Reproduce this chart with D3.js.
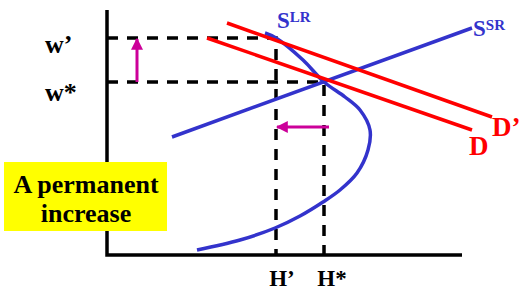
<!DOCTYPE html>
<html>
<head>
<meta charset="utf-8">
<script src="https://cdn.jsdelivr.net/npm/d3@7"></script>
<style>
  body { margin: 0; background: #fff; }
  svg { display: block; }
</style>
</head>
<body>
<svg width="520" height="291"></svg>
<script>
// chart units: hours H on x, wage w on y
const equilibrium = {hStar: 217, hPrime: 169, wStar: 173, wPrime: 217};
const shortRunSupply = [[65, 118], [365, 227]];
const demand = [[100, 217], [365, 125]];
const demandShifted = [[120, 232], [385, 138]];
const longRunSupply = [
  [158, 222], [169, 217], [196, 195], [217, 173], [238, 158], [253, 145],
  [263, 125], [261, 105], [250, 82], [233, 65], [216, 53], [193, 39],
  [168, 27], [133, 15], [90, 5]
];
const yLabels = ["w’", "w*"];
const xLabels = ["H’", "H*"];
const boxLines = ["A permanent", "increase"];

const blue = "#3333cc", red = "#ff0000", magenta = "#cc0099";
const serif = "'Liberation Serif', 'Times New Roman', Times, 'DejaVu Serif', serif";

const svg = d3.select("svg")
  .attr("font-family", serif)
  .attr("font-weight", "bold");

const x = d3.scaleLinear().domain([0, 355]).range([107, 462]);
const y = d3.scaleLinear().domain([0, 245]).range([255, 10]);

const line = d3.line().x(d => x(d[0])).y(d => y(d[1]));

// magenta arrow head
svg.append("defs").append("marker")
  .attr("id", "head")
  .attr("viewBox", "0 0 10 10")
  .attr("refX", 9).attr("refY", 5)
  .attr("markerWidth", 4).attr("markerHeight", 4)
  .attr("markerUnits", "strokeWidth")
  .attr("orient", "auto")
  .append("path")
  .attr("d", "M0,0 L10,5 L0,10 Z")
  .attr("fill", magenta);

// axes
svg.append("path")
  .attr("d", `M${x(0)},${y(245)} L${x(0)},${y(0)} L${x(355)},${y(0)}`)
  .attr("fill", "none")
  .attr("stroke", "#000")
  .attr("stroke-width", 3.5);

// dashed guides
const dash = "11,9";
svg.append("path")
  .attr("d", line([[0, equilibrium.wPrime], [equilibrium.hPrime, equilibrium.wPrime], [equilibrium.hPrime, 0]]))
  .attr("fill", "none").attr("stroke", "#000").attr("stroke-width", 3.5)
  .attr("stroke-dasharray", dash);
svg.append("path")
  .attr("d", line([[0, equilibrium.wStar], [equilibrium.hStar, equilibrium.wStar], [equilibrium.hStar, 0]]))
  .attr("fill", "none").attr("stroke", "#000").attr("stroke-width", 3.5)
  .attr("stroke-dasharray", dash);

// curves
svg.append("path")
  .attr("d", line(shortRunSupply))
  .attr("fill", "none").attr("stroke", blue).attr("stroke-width", 3.5);

svg.append("path")
  .attr("d", d3.line().x(d => x(d[0])).y(d => y(d[1])).curve(d3.curveCatmullRom)(longRunSupply))
  .attr("fill", "none").attr("stroke", blue).attr("stroke-width", 3.5);

svg.append("path")
  .attr("d", line(demand))
  .attr("fill", "none").attr("stroke", red).attr("stroke-width", 3.5);

svg.append("path")
  .attr("d", line(demandShifted))
  .attr("fill", "none").attr("stroke", red).attr("stroke-width", 3.5);

// arrows
svg.append("path")
  .attr("d", line([[30, equilibrium.wStar], [30, equilibrium.wPrime - 1]]))
  .attr("stroke", magenta).attr("stroke-width", 3)
  .attr("marker-end", "url(#head)");
svg.append("path")
  .attr("d", line([[222, 128], [equilibrium.hPrime + 1, 128]]))
  .attr("stroke", magenta).attr("stroke-width", 3)
  .attr("marker-end", "url(#head)");

// axis labels
svg.selectAll(".ylab")
  .data(yLabels)
  .enter().append("text")
  .attr("x", 45)
  .attr("y", (d, i) => i === 0 ? 53 : 101)
  .attr("font-size", "26px")
  .text(d => d);

svg.selectAll(".xlab")
  .data(xLabels)
  .enter().append("text")
  .attr("x", (d, i) => i === 0 ? 282 : 332)
  .attr("y", 286)
  .attr("text-anchor", "middle")
  .attr("font-size", "23px")
  .text(d => d);

// curve labels
function supLabel(px, py, main, sup, color) {
  const t = svg.append("text").attr("x", px).attr("y", py).attr("fill", color);
  t.append("tspan").attr("font-size", "23px").text(main);
  t.append("tspan").attr("font-size", "15px").attr("dy", -6).text(sup);
}
supLabel(277, 28, "S", "LR", blue);
supLabel(473, 36, "S", "SR", blue);

svg.append("text").attr("x", 492).attr("y", 136)
  .attr("fill", red).attr("font-size", "27px").text("D’");
svg.append("text").attr("x", 469).attr("y", 155)
  .attr("fill", red).attr("font-size", "27px").text("D");

// yellow note
svg.append("rect")
  .attr("x", 4).attr("y", 162)
  .attr("width", 163).attr("height", 69)
  .attr("fill", "#ffff00");

svg.selectAll(".box")
  .data(boxLines)
  .enter().append("text")
  .attr("x", 86)
  .attr("y", (d, i) => 193 + i * 29)
  .attr("text-anchor", "middle")
  .attr("font-size", "26px")
  .text(d => d);
</script>
</body>
</html>
